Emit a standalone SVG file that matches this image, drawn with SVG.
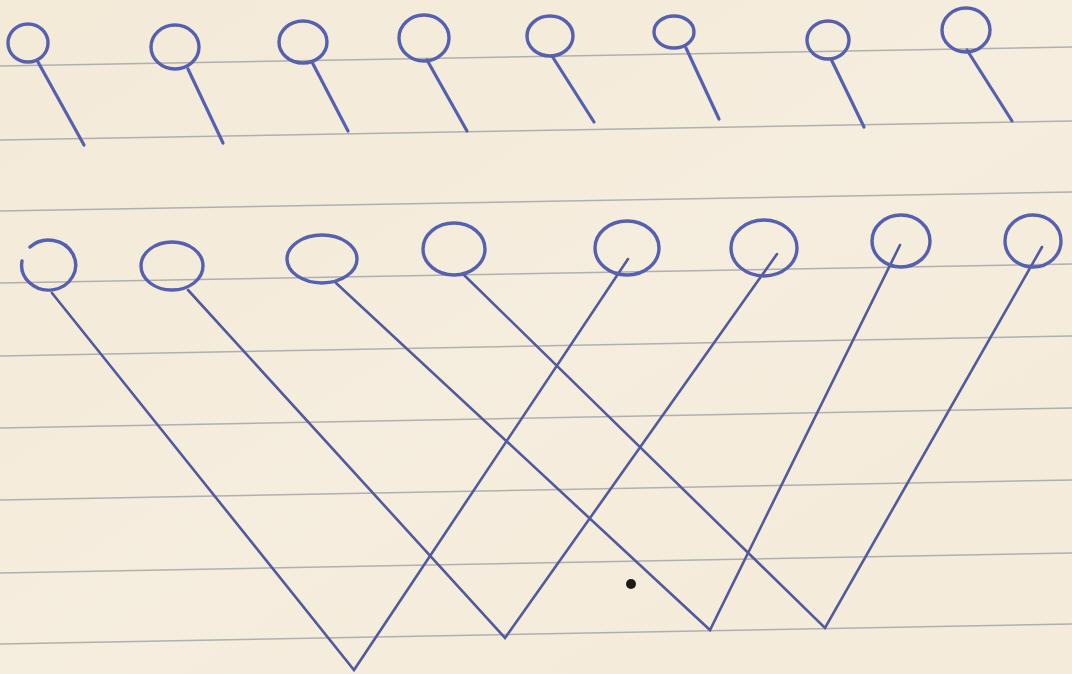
<svg xmlns="http://www.w3.org/2000/svg" width="1072" height="674" viewBox="0 0 1072 674">
<defs>
<linearGradient id="paper" x1="0" y1="0" x2="1" y2="1">
<stop offset="0" stop-color="#f3ead8"/>
<stop offset="0.5" stop-color="#f5eddd"/>
<stop offset="1" stop-color="#f4ebda"/>
</linearGradient>
<style>
.rule{stroke:#a3a5a8;stroke-width:1.6;fill:none;opacity:0.85}
.ink{stroke:#5660b0;stroke-width:3.4;fill:none;stroke-linecap:round}
.stem{stroke:#5660b0;stroke-width:3.2;fill:none;stroke-linecap:round}
.wire{stroke:#525a9e;stroke-width:2.6;fill:none;stroke-linecap:round}
</style>
</defs>
<rect width="1072" height="674" fill="url(#paper)"/>
<g id="ruled-lines">
<line class="rule" x1="0" y1="66" x2="1072" y2="47"/>
<line class="rule" x1="0" y1="140" x2="1072" y2="121"/>
<line class="rule" x1="0" y1="211" x2="1072" y2="192"/>
<line class="rule" x1="0" y1="283" x2="1072" y2="264"/>
<line class="rule" x1="0" y1="356" x2="1072" y2="336"/>
<line class="rule" x1="0" y1="428" x2="1072" y2="408"/>
<line class="rule" x1="0" y1="500" x2="1072" y2="480"/>
<line class="rule" x1="0" y1="573" x2="1072" y2="553"/>
<line class="rule" x1="0" y1="644" x2="1072" y2="624"/>
</g>
<g id="connectors">
<line class="stem" x1="38" y1="62" x2="84" y2="145"/>
<line class="stem" x1="188" y1="69" x2="223" y2="143"/>
<line class="stem" x1="312" y1="62" x2="348" y2="131"/>
<line class="stem" x1="427" y1="60" x2="467" y2="131"/>
<line class="stem" x1="552" y1="56" x2="594" y2="122"/>
<line class="stem" x1="686" y1="48" x2="719" y2="119"/>
<line class="stem" x1="831" y1="59" x2="864" y2="127"/>
<line class="stem" x1="967" y1="50" x2="1012" y2="121"/>
<polyline class="wire" points="52,293 354,670 628,259"/>
<polyline class="wire" points="188,290 505,638 777,254"/>
<polyline class="wire" points="336,283 710,630 900,245"/>
<polyline class="wire" points="464,275 825,628 1042,247"/>
</g>
<g id="top-1"><ellipse class="ink" cx="28" cy="43" rx="20" ry="19"/></g>
<g id="top-2"><ellipse class="ink" cx="175" cy="47" rx="24" ry="22"/></g>
<g id="top-3"><ellipse class="ink" cx="303" cy="42" rx="24" ry="21"/></g>
<g id="top-4"><ellipse class="ink" cx="424" cy="38" rx="25" ry="23"/></g>
<g id="top-5"><ellipse class="ink" cx="550" cy="36" rx="23" ry="20"/></g>
<g id="top-6"><ellipse class="ink" cx="674" cy="32" rx="20" ry="16"/></g>
<g id="top-7"><ellipse class="ink" cx="828" cy="40" rx="21" ry="19"/></g>
<g id="top-8"><ellipse class="ink" cx="966" cy="30" rx="24" ry="22"/></g>
<g id="bottom-1"><path class="ink" d="M22,261 A27,25 0 1 0 30,247"/></g>
<g id="bottom-2"><ellipse class="ink" cx="172" cy="266" rx="31" ry="24"/></g>
<g id="bottom-3"><ellipse class="ink" cx="322" cy="259" rx="35" ry="24"/></g>
<g id="bottom-4"><ellipse class="ink" cx="454" cy="249" rx="31" ry="26"/></g>
<g id="bottom-5"><ellipse class="ink" cx="627" cy="248" rx="32" ry="27"/></g>
<g id="bottom-6"><ellipse class="ink" cx="764" cy="248" rx="33" ry="28"/></g>
<g id="bottom-7"><ellipse class="ink" cx="901" cy="241" rx="29" ry="26"/></g>
<g id="bottom-8"><ellipse class="ink" cx="1033" cy="241" rx="28" ry="26"/></g>
<circle cx="631" cy="584" r="5" fill="#1e1a18"/>
</svg>
